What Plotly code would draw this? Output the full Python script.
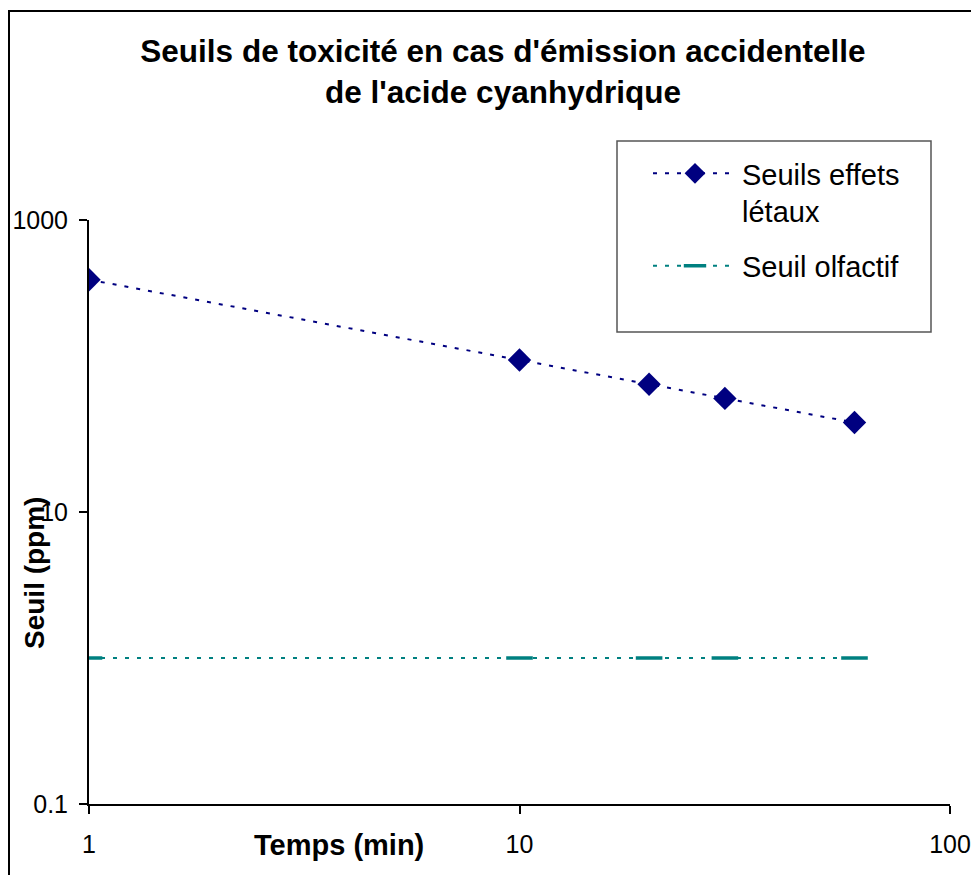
import plotly.graph_objects as go

temps = [1, 10, 20, 30, 60]
seuils_letaux = [390, 110, 75, 60, 41]
seuil_olfactif = [1, 1, 1, 1, 1]

title_lines = ["Seuils de toxicité en cas d'émission accidentelle", "de l'acide cyanhydrique"]
name_letaux = "Seuils effets<br>létaux"
name_olf = "Seuil olfactif"
x_title = "Temps (min)"
y_title = "Seuil (ppm)"
x_ticks = [1, 10, 100]
x_tick_text = ["1", "10", "100"]
y_ticks = [0.1, 10, 1000]
y_tick_text = ["0.1", "10", "1000"]

FONT = "Liberation Sans, Arial, sans-serif"
W, H = 971, 875
L, R, T, B = 89, 950, 220, 804
pw, ph = R - L, B - T

def px(x):
    return (x - L) / pw

def py(y):
    return (B - y) / ph

fig = go.Figure()
fig.add_trace(go.Scatter(
    x=temps, y=seuils_letaux, name=name_letaux, mode="lines+markers",
    legendgroup="a",
    line=dict(color="#000080", width=2, dash="4px,8px"),
    marker=dict(symbol="diamond", size=18, color="#000080"),
))
fig.add_trace(go.Scatter(
    x=temps, y=seuil_olfactif, name=name_olf, mode="lines+markers",
    legendgroup="b",
    line=dict(color="#008080", width=2, dash="4px,8px"),
    marker=dict(symbol="line-ew", size=19, color="#008080",
                line=dict(color="#008080", width=3.5)),
))

fig.update_layout(
    width=W, height=H,
    margin=dict(l=L, r=W - R, t=T, b=H - B, pad=0, autoexpand=False),
    paper_bgcolor="white", plot_bgcolor="white",
    font=dict(family=FONT, color="black", size=24),
    title=dict(text="<br>".join(title_lines), x=503 / W, xanchor="center",
               y=1 - 62 / H, yanchor="middle",
               font=dict(family=FONT, size=31.5, color="black", weight="bold")),
    showlegend=True,
    legend=dict(x=px(648), y=py(148), xanchor="left", yanchor="top",
                bgcolor="rgba(0,0,0,0)", borderwidth=0,
                font=dict(family=FONT, size=29, color="black"),
                itemwidth=84, valign="top", tracegroupgap=14),
    xaxis=dict(type="log", range=[0, 2], tickvals=x_ticks, ticktext=x_tick_text,
               showgrid=False, zeroline=False, showline=True, linecolor="black",
               linewidth=2, ticks="outside", ticklen=8, tickwidth=2, tickcolor="black",
               ticklabelstandoff=9, ticklabeloverflow="allow", tickfont=dict(size=25)),
    yaxis=dict(type="log", range=[-1, 3], tickvals=y_ticks, ticktext=y_tick_text,
               showgrid=False, zeroline=False, showline=True, linecolor="black",
               linewidth=2, ticks="outside", ticklen=8, tickwidth=2, tickcolor="black",
               ticklabelstandoff=6, tickfont=dict(size=25)),
)

# legend frame and outer chart frame
fig.add_shape(type="rect", xref="paper", yref="paper",
              x0=px(617), x1=px(931), y0=py(332), y1=py(141),
              line=dict(color="#555555", width=1.5), fillcolor="rgba(0,0,0,0)")
fig.add_shape(type="rect", xref="paper", yref="paper",
              x0=px(9), x1=px(990), y0=py(895), y1=py(11),
              line=dict(color="black", width=2), fillcolor="rgba(0,0,0,0)")

fig.add_annotation(text=f"<b>{x_title}</b>", xref="paper", yref="paper",
                   x=px(339), y=py(845), xanchor="center", yanchor="middle",
                   showarrow=False, font=dict(family=FONT, size=29, color="black"))
fig.add_annotation(text=f"<b>{y_title}</b>", xref="paper", yref="paper",
                   x=px(34), y=py(573), xanchor="center", yanchor="middle",
                   textangle=-90, showarrow=False,
                   font=dict(family=FONT, size=28, color="black"))

fig.write_html("out.html", config={"displayModeBar": False},
               post_script="document.body.style.margin='0';document.body.style.overflow='hidden';")
